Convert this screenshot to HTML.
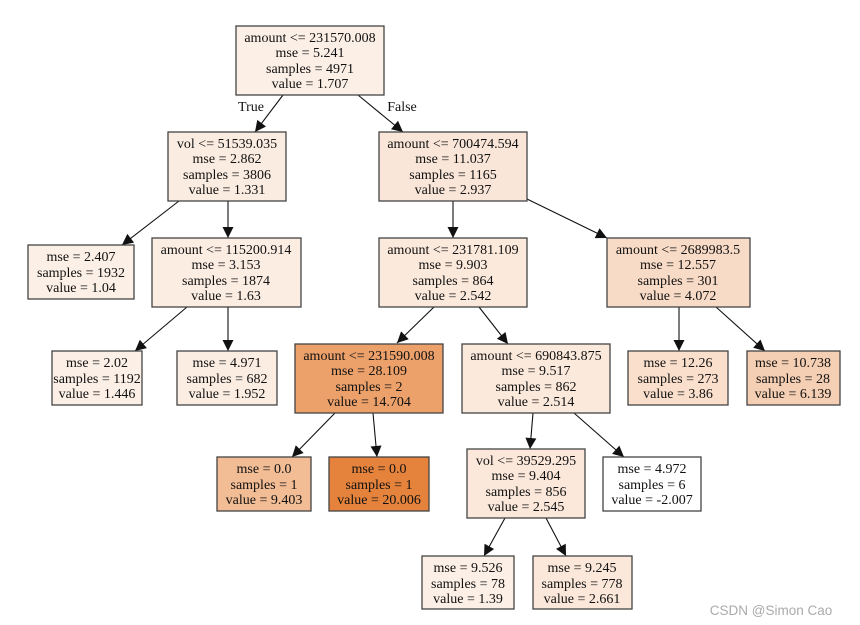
<!DOCTYPE html>
<html><head><meta charset="utf-8"><style>
html,body{margin:0;padding:0;background:#fff;}
svg{display:block;}
text{font-family:"Liberation Serif",serif;font-size:14px;fill:#111;text-anchor:middle;}
rect{stroke:#444;stroke-width:1.3;}
line{stroke:#111;stroke-width:1.1;}
</style></head><body>
<svg width="860" height="625" viewBox="0 0 860 625" xmlns="http://www.w3.org/2000/svg">
<defs><marker id="a" viewBox="0 0 10 10" refX="10" refY="5" markerWidth="12" markerHeight="11" markerUnits="userSpaceOnUse" orient="auto"><path d="M0,0 L10,5 L0,10 z" fill="#111"/></marker></defs>
<g>
<line x1="283" y1="95" x2="255" y2="132" marker-end="url(#a)"/>
<line x1="358" y1="95" x2="403" y2="132" marker-end="url(#a)"/>
<line x1="179" y1="201" x2="122" y2="245" marker-end="url(#a)"/>
<line x1="228" y1="201" x2="228" y2="238" marker-end="url(#a)"/>
<line x1="187" y1="307" x2="135" y2="351" marker-end="url(#a)"/>
<line x1="228" y1="307" x2="228" y2="351" marker-end="url(#a)"/>
<line x1="453" y1="201" x2="453" y2="238" marker-end="url(#a)"/>
<line x1="527" y1="199" x2="607" y2="238" marker-end="url(#a)"/>
<line x1="434" y1="307" x2="397" y2="343" marker-end="url(#a)"/>
<line x1="479" y1="307" x2="508" y2="344" marker-end="url(#a)"/>
<line x1="335" y1="413" x2="292" y2="457" marker-end="url(#a)"/>
<line x1="373" y1="413" x2="377" y2="457" marker-end="url(#a)"/>
<line x1="533" y1="413" x2="530" y2="449" marker-end="url(#a)"/>
<line x1="574" y1="413" x2="624" y2="457" marker-end="url(#a)"/>
<line x1="505" y1="518" x2="484" y2="556" marker-end="url(#a)"/>
<line x1="546" y1="518" x2="566" y2="556" marker-end="url(#a)"/>
<line x1="679" y1="307" x2="679" y2="351" marker-end="url(#a)"/>
<line x1="716" y1="307" x2="765" y2="351" marker-end="url(#a)"/>
</g>
<text x="251" y="111">True</text>
<text x="402" y="111">False</text>

<rect x="236" y="26" width="148" height="69" fill="#fcefe6"/>
<text x="310" y="42">amount &lt;= 231570.008</text><text x="310" y="57">mse = 5.241</text><text x="310" y="73">samples = 4971</text><text x="310" y="88">value = 1.707</text>

<rect x="168" y="132" width="118" height="69" fill="#fbece1"/>
<text x="227" y="148">vol &lt;= 51539.035</text><text x="227" y="163">mse = 2.862</text><text x="227" y="179">samples = 3806</text><text x="227" y="194">value = 1.331</text>

<rect x="379" y="132" width="148" height="69" fill="#fae6d8"/>
<text x="453" y="148">amount &lt;= 700474.594</text><text x="453" y="163">mse = 11.037</text><text x="453" y="179">samples = 1165</text><text x="453" y="194">value = 2.937</text>

<rect x="28" y="245" width="106" height="54" fill="#fcefe6"/>
<text x="81" y="261">mse = 2.407</text><text x="81" y="277">samples = 1932</text><text x="81" y="292">value = 1.04</text>

<rect x="152" y="238" width="149" height="69" fill="#fcede3"/>
<text x="226" y="254">amount &lt;= 115200.914</text><text x="226" y="269">mse = 3.153</text><text x="226" y="285">samples = 1874</text><text x="226" y="300">value = 1.63</text>

<rect x="379" y="238" width="148" height="69" fill="#fbe9dc"/>
<text x="453" y="254">amount &lt;= 231781.109</text><text x="453" y="269">mse = 9.903</text><text x="453" y="285">samples = 864</text><text x="453" y="300">value = 2.542</text>

<rect x="607" y="238" width="143" height="69" fill="#f8dbc6"/>
<text x="678" y="254">amount &lt;= 2689983.5</text><text x="678" y="269">mse = 12.557</text><text x="678" y="285">samples = 301</text><text x="678" y="300">value = 4.072</text>

<rect x="52" y="351" width="90" height="54" fill="#fcefe6"/>
<text x="97" y="367">mse = 2.02</text><text x="97" y="383">samples = 1192</text><text x="97" y="398">value = 1.446</text>

<rect x="177" y="351" width="100" height="54" fill="#fcede3"/>
<text x="227" y="367">mse = 4.971</text><text x="227" y="383">samples = 682</text><text x="227" y="398">value = 1.952</text>

<rect x="295" y="344" width="148" height="69" fill="#eca06a"/>
<text x="369" y="360">amount &lt;= 231590.008</text><text x="369" y="375">mse = 28.109</text><text x="369" y="391">samples = 2</text><text x="369" y="406">value = 14.704</text>

<rect x="462" y="344" width="148" height="69" fill="#fbe9dc"/>
<text x="536" y="360">amount &lt;= 690843.875</text><text x="536" y="375">mse = 9.517</text><text x="536" y="391">samples = 862</text><text x="536" y="406">value = 2.514</text>

<rect x="628" y="351" width="100" height="54" fill="#f9dfcc"/>
<text x="678" y="367">mse = 12.26</text><text x="678" y="383">samples = 273</text><text x="678" y="398">value = 3.86</text>

<rect x="747" y="351" width="93" height="54" fill="#f5cfb3"/>
<text x="793" y="367">mse = 10.738</text><text x="793" y="383">samples = 28</text><text x="793" y="398">value = 6.139</text>

<rect x="217" y="457" width="94" height="54" fill="#f2bc95"/>
<text x="264" y="473">mse = 0.0</text><text x="264" y="489">samples = 1</text><text x="264" y="504">value = 9.403</text>

<rect x="329" y="457" width="100" height="54" fill="#e5833c"/>
<text x="379" y="473">mse = 0.0</text><text x="379" y="489">samples = 1</text><text x="379" y="504">value = 20.006</text>

<rect x="467" y="449" width="118" height="69" fill="#fbe8db"/>
<text x="526" y="465">vol &lt;= 39529.295</text><text x="526" y="480">mse = 9.404</text><text x="526" y="496">samples = 856</text><text x="526" y="511">value = 2.545</text>

<rect x="603" y="457" width="98" height="54" fill="#ffffff"/>
<text x="652" y="473">mse = 4.972</text><text x="652" y="489">samples = 6</text><text x="652" y="504">value = -2.007</text>

<rect x="422" y="556" width="92" height="53" fill="#fcefe6"/>
<text x="468" y="572">mse = 9.526</text><text x="468" y="588">samples = 78</text><text x="468" y="603">value = 1.39</text>

<rect x="533" y="556" width="99" height="53" fill="#fbe8da"/>
<text x="582" y="572">mse = 9.245</text><text x="582" y="588">samples = 778</text><text x="582" y="603">value = 2.661</text>

<text x="771" y="615" style="font-family:'Liberation Sans',sans-serif;font-size:13.5px;fill:#aaa;">CSDN @Simon Cao</text>
</svg>
</body></html>
